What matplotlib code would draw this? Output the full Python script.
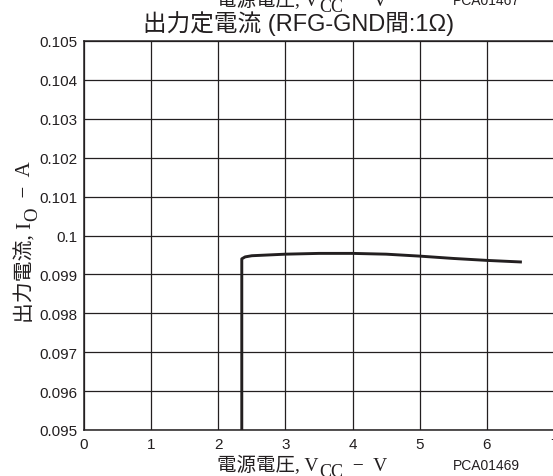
import matplotlib
matplotlib.use("Agg")
import matplotlib.pyplot as plt

# values
vcc = [2.35, 2.35, 2.4, 2.5, 3.0, 3.5, 4.0, 4.5, 5.0, 5.5, 6.0, 6.5]
io = [0.0950, 0.09940, 0.09945, 0.09948, 0.09952, 0.09954, 0.09954,
      0.09952, 0.09947, 0.09941, 0.09936, 0.09932]
xticks = [0, 1, 2, 3, 4, 5, 6, 7]
yticks = [0.095, 0.096, 0.097, 0.098, 0.099, 0.1, 0.101, 0.102, 0.103, 0.104, 0.105]
ytick_labels = ['0.095', '0.096', '0.097', '0.098', '0.099', '0.1',
                '0.101', '0.102', '0.103', '0.104', '0.105']

sans = ['Liberation Sans', 'Noto Sans CJK JP']
serif = ['Liberation Serif', 'Noto Sans CJK JP']
ink = '#231f20'

fig = plt.figure(figsize=(5.53, 4.77), dpi=100)
ax = fig.add_axes([84 / 553, 1 - 431 / 477, 470 / 553, (431 - 42) / 477])

ax.plot(vcc, io, color=ink, lw=2.1, solid_joinstyle='round', zorder=3)

ax.set_xlim(0, 7)
ax.set_ylim(0.095, 0.105)
ax.set_xticks(xticks)
ax.set_yticks(yticks)
ax.set_yticklabels(ytick_labels)
ax.grid(True, color=ink, lw=0.9)
ax.tick_params(length=0, pad=5, labelsize=11, colors=ink)
for lab in ax.get_xticklabels() + ax.get_yticklabels():
    lab.set_family(sans)
for s in ax.spines.values():
    s.set_color(ink)
    s.set_linewidth(1.1)

fig.text(299 / 553, 1 - 24 / 477, '出力定電流 (RFG-GND間:1Ω)', family=sans,
         fontsize=17, ha='center', va='center', color=ink)


def hlabel(x, y, fs=14):
    # "電源電圧, V_CC − V" built from pieces
    t1 = fig.text(x, y, '電源電圧, V', family=serif, fontsize=fs,
                  ha='left', va='baseline', color=ink)
    t2 = ax.annotate('CC', xy=(1, 0), xycoords=t1, xytext=(0.5, -4),
                     textcoords='offset points', family=serif, fontsize=fs - 1,
                     ha='left', va='bottom', color=ink)
    ax.annotate('  −  V', xy=(1, 0), xycoords=t2, xytext=(0, 4),
                textcoords='offset points', family=serif, fontsize=fs,
                ha='left', va='bottom', color=ink)


hlabel(217 / 553, 1 - 471 / 477)
hlabel(217 / 553, 1 - 6 / 477)
fig.text(453 / 553, 1 - 466 / 477, 'PCA01469', family=sans, fontsize=10,
         ha='left', va='center', color=ink)
fig.text(453 / 553, 1 - 1 / 477, 'PCA01467', family=sans, fontsize=10,
         ha='left', va='center', color=ink)

# vertical y label "出力電流, I_O − A"
v1 = fig.text(26 / 553, 1 - 323 / 477, '出力電流, I', family=serif, fontsize=15,
              rotation=90, ha='center', va='bottom', color=ink)
v2 = ax.annotate('O', xy=(0.5, 1), xycoords=v1, xytext=(4.5, 0.5),
                 textcoords='offset points', family=serif, fontsize=13.5,
                 rotation=90, ha='center', va='bottom', color=ink)
ax.annotate('  −  A', xy=(0.5, 1), xycoords=v2, xytext=(-4.5, 0),
            textcoords='offset points', family=serif, fontsize=15,
            rotation=90, ha='center', va='bottom', color=ink)

fig.savefig('out.png', dpi=100)
